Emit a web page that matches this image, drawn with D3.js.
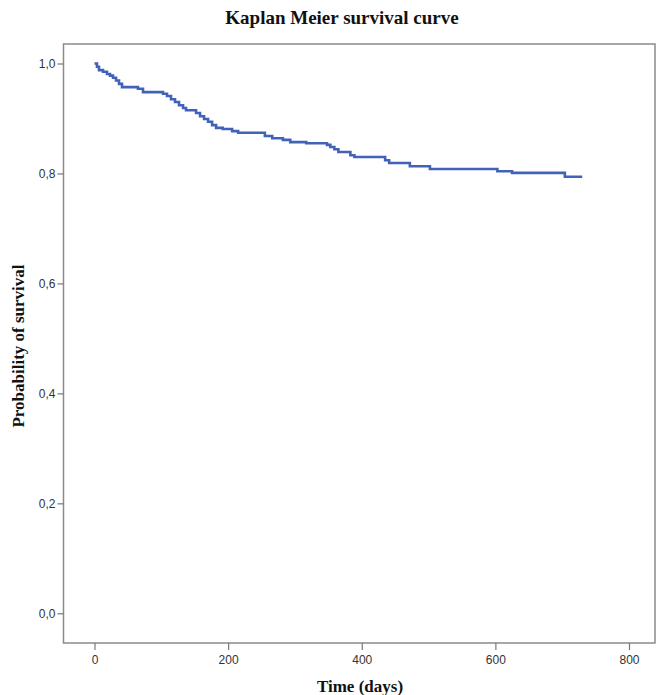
<!DOCTYPE html>
<html>
<head>
<meta charset="utf-8">
<script src="https://cdn.jsdelivr.net/npm/d3@7"></script>
<style>
  body { margin: 0; background: #fff; }
  .tick text { font-family: "Liberation Sans", Arial, sans-serif; font-size: 12px; fill: #333; }
  .title { font-family: "Liberation Serif", "Times New Roman", serif; font-weight: bold; fill: #111; }
</style>
</head>
<body>
<div id="chart"></div>
<script>
// step times (days) and survival after each step
var times = [0, 3.7, 6.7, 12.7, 18.7, 23.2, 27.7, 32.2, 36.7, 41.2, 65, 72.6,
    102.5, 108.5, 114.5, 120.5, 126.5, 132.5, 137, 152, 158, 164, 170, 176, 182,
    192, 206, 215, 255, 266, 282, 293, 317, 348, 353, 359, 365, 383, 389, 435,
    441, 472, 502, 603, 625, 704, 730];
var survival = [1.0, 0.994, 0.988, 0.985, 0.981, 0.978, 0.974, 0.969, 0.963, 0.957, 0.954, 0.948,
    0.945, 0.941, 0.935, 0.930, 0.924, 0.919, 0.915, 0.910, 0.904, 0.899, 0.894, 0.888, 0.883,
    0.881, 0.877, 0.874, 0.868, 0.864, 0.861, 0.857, 0.855, 0.852, 0.848, 0.844, 0.839, 0.833, 0.830, 0.824,
    0.819, 0.813, 0.808, 0.804, 0.801, 0.794, 0.794];
var xTicks = [0, 200, 400, 600, 800];
var yTicks = [0, 0.2, 0.4, 0.6, 0.8, 1.0];

var ctx = { w: 658, h: 695 };
var frame = { left: 63.5, right: 655, top: 44, bottom: 643 };

var svg = d3.select("#chart").append("svg")
    .attr("width", ctx.w)
    .attr("height", ctx.h);

var x = d3.scaleLinear().domain([0, 800]).range([94.5, 629]);
var y = d3.scaleLinear().domain([0, 1]).range([613.3, 63.5]);

var data = times.map(function (t, i) {
    return { t: t, s: survival[i] };
});

// plot frame
svg.append("rect")
    .attr("x", frame.left)
    .attr("y", frame.top)
    .attr("width", frame.right - frame.left)
    .attr("height", frame.bottom - frame.top)
    .style("fill", "none")
    .style("stroke", "#8a8a8a")
    .style("stroke-width", 1.5);

var fmt = function (d) { return d3.format(".1f")(d).replace(".", ","); };

var yAxis = svg.append("g")
    .attr("transform", "translate(" + frame.left + ",0)")
    .call(d3.axisLeft(y).tickValues(yTicks).tickFormat(fmt).tickSize(6).tickPadding(2));
yAxis.select(".domain").remove();

var xAxis = svg.append("g")
    .attr("transform", "translate(0," + frame.bottom + ")")
    .call(d3.axisBottom(x).tickValues(xTicks).tickSize(7).tickPadding(5));
xAxis.select(".domain").remove();

svg.selectAll(".tick line").style("stroke", "#777").style("stroke-width", 1.2);

var line = d3.line()
    .x(function (d) { return x(d.t); })
    .y(function (d) { return y(d.s); })
    .curve(d3.curveStepAfter);

svg.append("path")
    .datum(data)
    .attr("d", line)
    .style("fill", "none")
    .style("stroke", "#4262b8")
    .style("stroke-width", 2.6);

svg.append("text")
    .attr("class", "title")
    .attr("x", 342)
    .attr("y", 24)
    .attr("text-anchor", "middle")
    .style("font-size", "19px")
    .text("Kaplan Meier survival curve");

svg.append("text")
    .attr("class", "title")
    .attr("x", 360)
    .attr("y", 692)
    .attr("text-anchor", "middle")
    .style("font-size", "17px")
    .text("Time (days)");

svg.append("text")
    .attr("class", "title")
    .attr("transform", "translate(24,346) rotate(-90)")
    .attr("text-anchor", "middle")
    .style("font-size", "17px")
    .text("Probability of survival");
</script>
</body>
</html>
